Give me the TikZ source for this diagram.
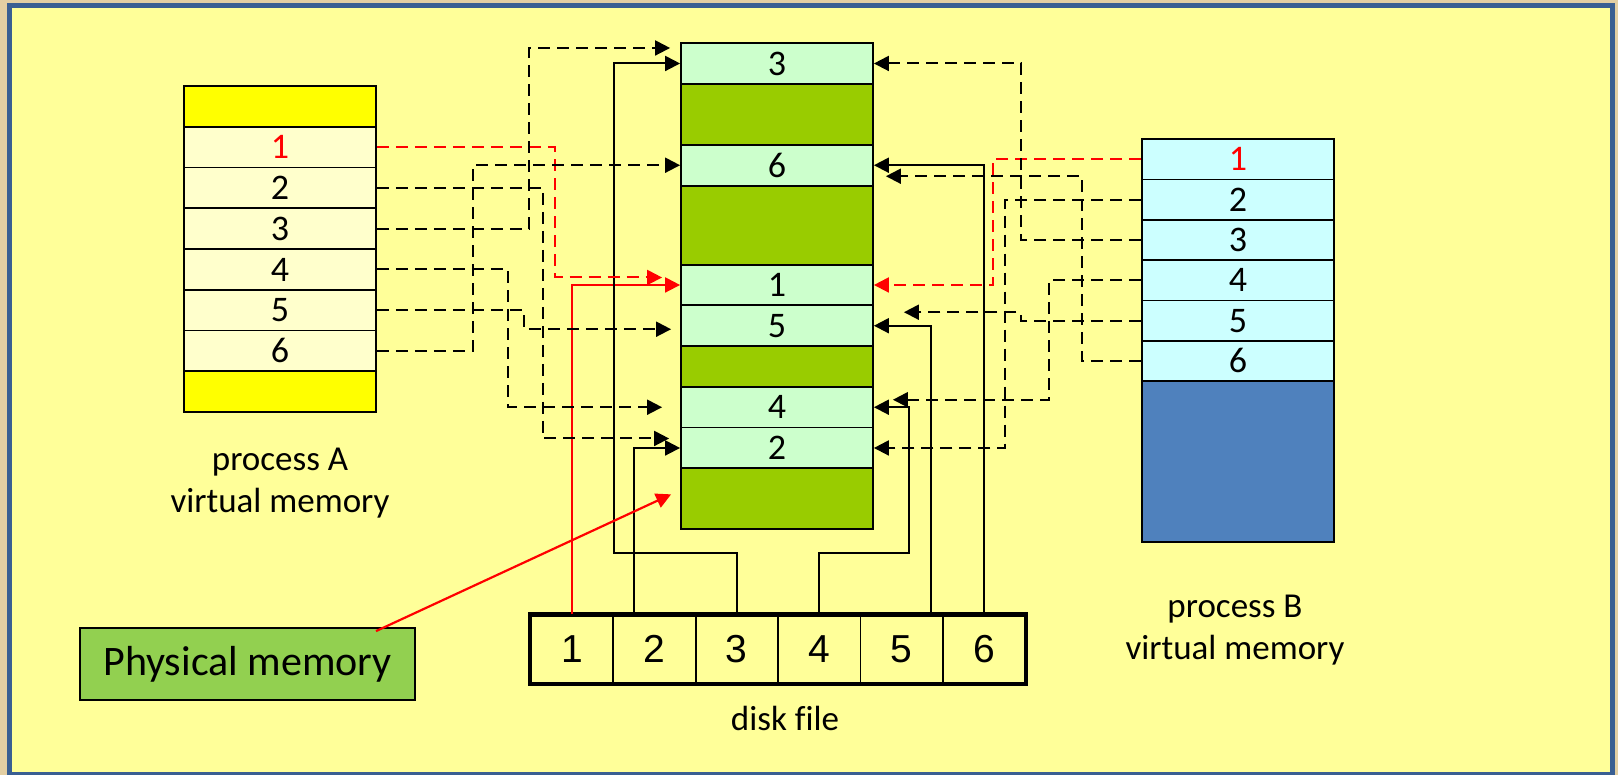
\documentclass[tikz,border=0pt]{standalone}
\usepackage{fontspec}
\setmainfont[Ligatures=NoCommon]{Carlito}
\newfontfamily\diskfont{Liberation Sans}
\usetikzlibrary{matrix,arrows.meta}
\definecolor{slidebg}{HTML}{FFFF99}
\definecolor{outside}{HTML}{E3CFA3}
\definecolor{frameblue}{HTML}{3A5F92}
\definecolor{capA}{HTML}{FFFF00}
\definecolor{rowA}{HTML}{FFFFCC}
\definecolor{rowM}{HTML}{CCFFCC}
\definecolor{greenM}{HTML}{99CC00}
\definecolor{rowB}{HTML}{CCFFFF}
\definecolor{blueB}{HTML}{4F81BD}
\definecolor{physgreen}{HTML}{92D050}

\begin{document}
\begin{tikzpicture}[x=1pt,y=-1pt]
\tikzset{cell/.style={draw,line width=1.8pt,minimum width=192pt,minimum height=40.75pt,inner sep=0pt,font=\fontsize{36}{42}\selectfont},
  diskcell/.style={draw,line width=1.8pt,minimum width=82.4pt,minimum height=68pt,inner sep=0pt,font=\diskfont\fontsize{39}{44}\selectfont},
  lbl/.style={font=\fontsize{35}{42}\selectfont,align=center,inner sep=2pt},
  link/.style={line width=2pt,-{Triangle[length=15pt,width=15pt]}},
  dlink/.style={link,dash pattern=on 12pt off 7pt}}
\useasboundingbox (0,0) rectangle (1618,775);
\fill[outside] (0,0) rectangle (1618,775);
\draw[frameblue,line width=5pt,fill=slidebg] (9.5,6) rectangle (1612,774);

% process A
\matrix (pa) [matrix of nodes, nodes={cell,fill=rowA}, row sep=-1.8pt, inner sep=0pt, anchor=north] at (280,85) {
|[fill=capA]| {} \\
|[text=red]| 1 \\
2 \\
3 \\
4 \\
5 \\
6 \\
|[fill=capA]| {} \\
};
\node (lblA) [lbl] at (280,483) {process A\\virtual memory};

% physical memory
\matrix (pm) [matrix of nodes, nodes={cell,fill=rowM}, row sep=-1.8pt, inner sep=0pt, anchor=north] at (777,42) {
3 \\
|[fill=greenM,minimum height=61pt]| {} \\
6 \\
|[fill=greenM,minimum height=79pt]| {} \\
1 \\
5 \\
|[fill=greenM]| {} \\
4 \\
2 \\
|[fill=greenM,minimum height=61pt]| {} \\
};

% process B
\matrix (pb) [matrix of nodes, nodes={cell,fill=rowB,minimum height=40.33pt}, row sep=-1.8pt, inner sep=0pt, anchor=north] at (1238,138) {
|[text=red]| 1 \\
2 \\
3 \\
4 \\
5 \\
6 \\
|[fill=blueB,minimum height=161pt]| {} \\
};
\node (lblB) [lbl] at (1235,630) {process B\\virtual memory};

% disk file
\matrix (disk) [matrix of nodes, nodes={diskcell}, column sep=-1.8pt, inner sep=0pt, anchor=north west] at (529.7,614) {
1 & 2 & 3 & 4 & 5 & 6 \\
};
\draw[line width=4.5pt] (disk-1-1.north west) rectangle (disk-1-6.south east);
\node (lbldisk) [lbl] at (785,718) {disk file};

\node (physmem) [draw,line width=1.8pt,fill=physgreen,minimum width=335pt,minimum height=72pt,font=\fontsize{42}{48}\selectfont] at (247.5,664) {Physical memory};

% disk -> physical
\draw[link,red] (disk-1-1.north) |- (pm-5-1.west);
\draw[link] ([xshift=-20pt]disk-1-2.north) |- (pm-9-1.west);
\draw[link] (disk-1-3.north) -- ++(0,-61) -- ++(-123,0) |- (pm-1-1.west);
\draw[link] (disk-1-4.north) -- ++(0,-61) -- ++(90,0) |- (pm-8-1.east);
\draw[link] ([xshift=29.5pt]disk-1-5.north) |- (pm-6-1.east);
\draw[link] (disk-1-6.north) |- (pm-3-1.east);

% process A -> physical
\draw[dlink,red] (pa-2-1.east) -- ++(178,0) |- ([xshift=-18pt,yshift=7.5pt]pm-5-1.west);
\draw[dlink] (pa-3-1.east) -- ++(166,0) |- ([xshift=-11pt,yshift=9.5pt]pm-9-1.west);
\draw[dlink] (pa-4-1.east) -- ++(152,0) |- ([xshift=-10pt,yshift=15.5pt]pm-1-1.west);
\draw[dlink] (pa-5-1.east) -- ++(131,0) |- ([xshift=-18pt]pm-8-1.west);
\draw[dlink] (pa-6-1.east) -- ++(147,0) |- ([xshift=-9pt,yshift=-3.5pt]pm-6-1.west);
\draw[dlink] (pa-7-1.east) -- ++(96,0) |- (pm-3-1.west);

% process B -> physical
\draw[dlink,red] (pb-1-1.west) -- ++(-148,0) |- (pm-5-1.east);
\draw[dlink] (pb-2-1.west) -- ++(-136,0) |- (pm-9-1.east);
\draw[dlink] (pb-3-1.west) -- ++(-120,0) |- (pm-1-1.east);
\draw[dlink] (pb-4-1.west) -- ++(-92,0) |- ([xshift=19pt,yshift=7.5pt]pm-8-1.east);
\draw[dlink] (pb-5-1.west) -- ++(-120,0) |- ([xshift=30pt,yshift=13.5pt]pm-6-1.east);
\draw[dlink] (pb-6-1.west) -- ++(-59,0) |- ([xshift=12pt,yshift=-11pt]pm-3-1.east);

% pointer
\draw[link,red,line width=2.2pt] ([xshift=128.5pt,yshift=-4pt]physmem.north) -- ([xshift=-9pt,yshift=4.5pt]pm-10-1.west);
\end{tikzpicture}
\end{document}
